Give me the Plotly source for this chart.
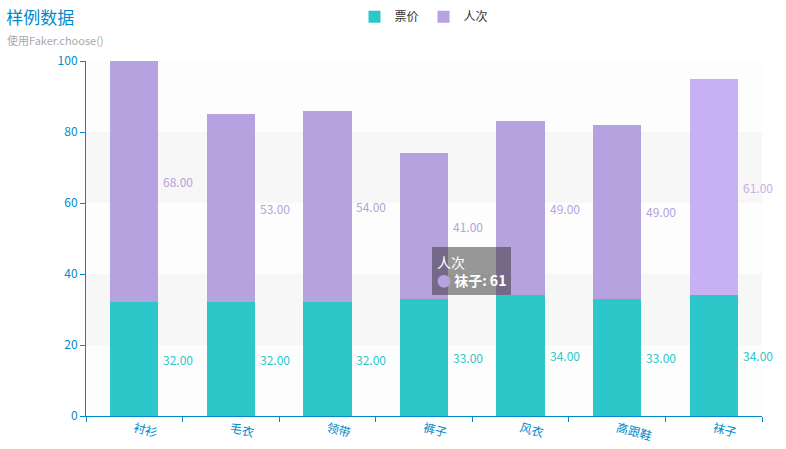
import plotly.graph_objects as go

categories = ["衬衫", "毛衣", "领带", "裤子", "风衣", "高跟鞋", "袜子"]
price = [32, 32, 32, 33, 34, 33, 34]
visits = [68, 53, 54, 41, 49, 49, 61]
y_ticks = [0, 20, 40, 60, 80, 100]

TEAL = "#2ec7c9"
PURPLE = "#b6a2de"
PURPLE_HI = "#c8b1f3"
BLUE = "#008acd"
FONT = "Noto Sans CJK SC, Microsoft YaHei, sans-serif"

hovered = len(categories) - 1
visit_colors = [PURPLE_HI if i == hovered else PURPLE for i in range(len(categories))]

fig = go.Figure()
fig.add_trace(go.Bar(name="票价", x=categories, y=price, marker=dict(color=TEAL, line=dict(width=0))))
fig.add_trace(go.Bar(name="人次", x=categories, y=visits, marker=dict(color=visit_colors, line=dict(width=0))))

# alternating split areas
for i in range(len(y_ticks) - 1):
    col = "#f7f7f7" if i % 2 == 1 else "#fdfdfd"
    fig.add_shape(type="rect", xref="paper", yref="y", x0=0, x1=1,
                  y0=y_ticks[i], y1=y_ticks[i + 1], fillcolor=col,
                  line=dict(width=0), layer="below")

annotations = []
for i, c in enumerate(categories):
    annotations.append(dict(x=c, y=price[i] / 2, xref="x", yref="y", text=f"{price[i]:.2f}",
                            showarrow=False, xanchor="left", xshift=27,
                            font=dict(color=TEAL, size=12, family=FONT)))
    col = "#c3b0ea" if i == hovered else PURPLE
    annotations.append(dict(x=c, y=price[i] + visits[i] / 2, xref="x", yref="y",
                            text=f"{visits[i]:.2f}", showarrow=False, xanchor="left", xshift=27,
                            font=dict(color=col, size=12, family=FONT)))

annotations.append(dict(text="使用Faker.choose()", xref="paper", yref="paper",
                        x=-0.12, y=1.059, xanchor="left", yanchor="middle", showarrow=False,
                        font=dict(size=11, color="#aaaaaa", family=FONT)))

# tooltip (hover state)
annotations.append(dict(
    text=f"人次<br><span style='color:{PURPLE}'>●</span> <b>{categories[hovered]}: {visits[hovered]}</b>",
    xref="paper", yref="paper", x=(432 - 86) / 676, y=(416 - 247) / 355,
    xanchor="left", yanchor="top", align="left", showarrow=False,
    bgcolor="rgba(50,50,50,0.5)", borderpad=5, borderwidth=0,
    font=dict(color="white", size=14, family=FONT)))

fig.update_layout(
    title=dict(text="样例数据", x=0.008, y=0.96, xanchor="left", yanchor="middle",
               font=dict(size=17, color=BLUE, family=FONT)),
    annotations=annotations,
    barmode="stack",
    bargap=0.5,
    width=786, height=449,
    margin=dict(l=86, r=24, t=61, b=33),
    plot_bgcolor="white", paper_bgcolor="white",
    font=dict(family=FONT, size=12),
    showlegend=True,
    legend=dict(orientation="h", x=0.5, xanchor="center", y=0.995, yref="container",
                yanchor="top", font=dict(color="#333", size=12, family=FONT),
                itemwidth=30, traceorder="normal"),
    xaxis=dict(range=[-0.5, len(categories) - 0.5], showline=True, linecolor=BLUE, linewidth=1,
               ticks="outside", tickson="boundaries", tickcolor=BLUE, ticklen=5, tickangle=15,
               tickfont=dict(color=BLUE, size=12, family=FONT), showgrid=False,
               automargin=False),
    yaxis=dict(range=[0, 100], tickvals=y_ticks, showline=True, linecolor=BLUE, linewidth=1,
               ticks="outside", tickcolor=BLUE, ticklen=5, showgrid=False, zeroline=False,
               tickfont=dict(color=BLUE, size=12, family=FONT), automargin=False),
)

fig.write_html("out.html", config={"displayModeBar": False},
               post_script="document.body.style.margin='0';")
